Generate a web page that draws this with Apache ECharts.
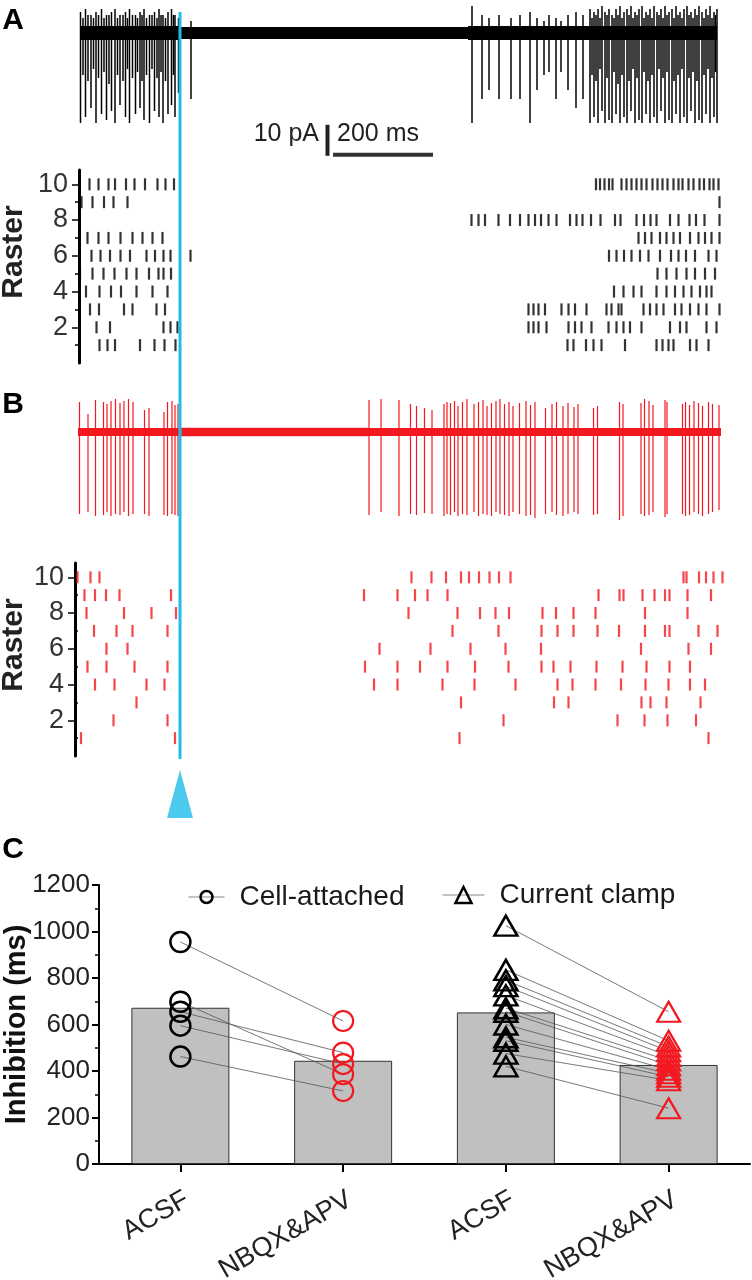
<!DOCTYPE html>
<html><head><meta charset="utf-8">
<script src="https://cdn.jsdelivr.net/npm/echarts@6/dist/echarts.min.js"></script>
<style>html,body{margin:0;padding:0;background:#fff}#c{width:752px;height:1280px}</style>
</head><body><div id="c"></div>
<script>
// ================= DATA =================
const stimTime = 204; // ms, stimulus marker (cyan line)

// Trace A (cell-attached current, pA): spike times (ms), downward depth, upward overshoot
const traceA_times = [5,15,26,36,47,57,67,74,84,95,103,115,124,132,143,153,162,170,180,187,194,201,226,
  10,20,31,41,52,62,79,90,99,109,119,128,137,148,158,166,175,191,
  788,808,822,842,866,884,904,918,932,942,956,966,980,996,1010,
  1024,1032,1040,1048,1054,1062,1068,1076,1084,1092,1098,1106,1114,1122,1128,1136,1144,1152,1158,1166,1174,1182,1188,1196,1204,1212,1218,1226,1234,1242,1248,1256,1264,1272,1278,
  1028,1036,1044,1058,1072,1080,1088,1102,1110,1118,1132,1140,1148,1162,1170,1178,1192,1200,1208,1222,1230,1238,1252,1260,1268,1275];
const traceA_depths = [30,28,25,30,27,29,26,30,24,28,30,27,25,29,30,26,28,30,27,24,28,20,22,
  14,16,12,15,13,17,14,16,12,15,13,16,14,12,15,13,16,14,
  30,22,19,22,22,22,30,19,14,13,22,13,19,25,22,
  30,28,30,26,30,29,30,27,30,28,30,26,30,29,30,27,30,28,30,26,30,29,30,27,30,28,30,26,30,29,30,27,30,28,30,
  14,16,12,15,13,17,14,16,12,15,13,16,14,12,15,13,16,14,12,15,13,16,14,12,15,13];
const traceA_ups = [7,8,6,7,8,6,7,8,6,7,8,6,7,8,6,7,8,6,7,8,6,5,4,
  5,6,5,6,5,6,5,6,5,6,5,6,5,6,5,6,5,6,
  9,6,5,6,5,6,7,5,4,6,5,4,6,7,6,
  8,7,8,9,7,8,6,8,9,7,8,9,7,8,9,7,8,9,7,8,9,7,8,9,7,8,9,7,8,9,7,8,9,7,8,
  5,6,5,6,5,6,5,6,5,6,5,6,5,6,5,6,5,6,5,6,5,6,5,6,5,6];
// baseline noise band: [start ms, end ms, half-thickness pA]
const traceA_band = [[4,205,2.3],[205,780,2.0],[780,1278,2.3]];

// Trace B (current clamp, mV-like units): spike times, upward peak, downward trough
const traceB_times = [3,20,35,51,58,66,75,84,92,101,110,133,142,172,179,188,194,200,
  582,606,642,665,677,693,708,732,738,745,753,760,769,778,792,801,810,818,827,836,844,853,862,870,883,896,905,914,935,948,957,970,980,992,1000,1031,1039,1083,1090,1126,1133,1142,1150,1174,1178,1209,1215,1223,1232,1241,1249,1261,1269,1282];
const traceB_ups = [30,18,32,30,28,31,33,29,31,33,30,22,24,20,30,31,27,28,
  32,33,32,28,26,24,22,28,30,29,31,26,30,33,28,30,32,26,29,31,33,28,30,26,29,31,27,30,24,28,30,26,29,25,28,24,26,30,28,29,33,31,27,32,30,28,30,27,31,29,26,30,28,27];
const traceB_downs = [82,80,84,83,80,84,82,83,80,84,82,82,84,83,84,82,83,84,
  83,80,84,82,83,81,82,84,82,83,80,84,82,83,80,84,82,83,84,80,82,83,84,80,82,84,83,86,82,80,83,84,82,80,82,83,82,88,84,82,84,83,80,85,82,82,84,83,80,82,84,82,80,78];
const traceB_band = [[0,205,4],[205,580,4.3],[580,1286,4]];

// Raster spike times (ms), index 0 = trial 1 ... index 9 = trial 10
const rasterA = [
  [43,59,74,124,153,173,195,979,991,1016,1031,1047,1094,1157,1169,1181,1191,1224,1237,1261],
  [37,64,171,185,199,901,911,921,937,981,994,1007,1027,1061,1077,1091,1104,1127,1184,1204,1217,1257,1277],
  [24,42,92,109,157,174,901,911,921,934,967,981,994,1017,1057,1067,1081,1087,1131,1144,1157,1171,1194,1207,1224,1241,1257,1283],
  [16,43,66,86,117,149,179,1072,1091,1111,1127,1157,1177,1194,1211,1227,1244,1257,1267],
  [4,29,51,73,97,117,142,161,171,186,1159,1177,1197,1217,1234,1254,1274],
  [27,45,64,85,104,137,154,171,185,225,1062,1077,1092,1107,1124,1141,1164,1186,1201,1216,1234,1261,1277],
  [19,41,61,85,109,129,149,169,1121,1134,1147,1164,1177,1191,1204,1224,1241,1254,1267,1283],
  [787,801,814,841,864,884,901,914,926,941,957,984,997,1009,1026,1045,1074,1085,1117,1132,1145,1157,1184,1201,1223,1236,1253,1283],
  [7,29,52,71,99,1283],
  [23,41,61,74,96,113,134,159,175,192,1036,1044,1053,1062,1069,1087,1097,1107,1117,1127,1137,1149,1159,1169,1179,1191,1201,1209,1221,1231,1243,1252,1263,1271,1281]
];
const rasterB = [
  [6,194,763,1261],
  [71,179,851,1079,1133,1179,1236],
  [117,766,952,981,1127,1145,1177,1245],
  [34,73,137,173,592,639,729,793,875,959,989,1035,1086,1135,1181,1224,1254],
  [19,57,113,179,574,639,684,739,794,861,927,951,985,1037,1089,1137,1183,1224],
  [57,99,603,705,785,855,926,1126,1221,1266],
  [32,77,109,179,749,841,927,959,991,1039,1082,1134,1174,1183,1241,1279],
  [17,92,147,196,661,759,804,835,862,929,956,991,1035,1134,1219],
  [13,34,56,83,186,572,639,674,699,739,1041,1083,1091,1129,1153,1174,1183,1219,1266],
  [-1,25,43,667,707,736,766,782,802,823,842,865,1211,1217,1242,1256,1271,1289]
];
const rasterTickLabels = [2,4,6,8,10];
const rasterMinorTicks = [1,3,5,7,9];

// Scale bar
const scaleBarPA = 10;
const scaleBarMs = 200;

// Panel C
const groups = ['ACSF','NBQX&APV','ACSF','NBQX&APV'];
const barMeans = [672, 444, 652, 426];
const cellAttachedACSF = [955, 698, 655, 595, 462];
const cellAttachedNBQX = [615, 386, 479, 430, 314];
const currentClampACSF = [1025, 835, 790, 765, 725, 670, 655, 600, 545, 530, 475, 420];
const currentClampNBQX = [655, 530, 505, 485, 465, 445, 425, 405, 390, 375, 360, 240];

// ================= CHART =================
const FONT = '"Liberation Sans", Arial, sans-serif';
const CYAN = '#1fbdea';
const RED = '#f2181f';
const chart = echarts.init(document.getElementById('c'), null, {renderer:'canvas'});

function spikeSeries(idx, times, ups, downs, color, width){
  return {type:'custom', xAxisIndex:idx, yAxisIndex:idx, silent:true, z:2,
    data: times.map((t,i)=>[t, ups[i], -downs[i]]),
    encode:{x:0, y:[1,2]},
    renderItem:(p, api)=>{
      const a = api.coord([api.value(0), api.value(1)]);
      const b = api.coord([api.value(0), api.value(2)]);
      return {type:'line', shape:{x1:a[0], y1:a[1], x2:b[0], y2:b[1]}, style:{stroke:color, lineWidth:width}};
    }};
}
function bandSeries(idx, band, color){
  return {type:'custom', xAxisIndex:idx, yAxisIndex:idx, silent:true, z:2,
    data: band, encode:{x:[0,1], y:2},
    renderItem:(p, api)=>{
      const a = api.coord([api.value(0), api.value(2)]);
      const b = api.coord([api.value(1), -api.value(2)]);
      return {type:'rect', shape:{x:a[0], y:a[1], width:b[0]-a[0], height:b[1]-a[1]}, style:{fill:color}};
    }};
}
function rasterSeries(idx, rows, color){
  const d = [];
  rows.forEach((row, i) => row.forEach(t => d.push([t, i+1])));
  return {type:'scatter', xAxisIndex:idx, yAxisIndex:idx, data:d, symbol:'rect', symbolSize:[2.2, 12],
    itemStyle:{color:color}, silent:true, clip:false};
}
function hiddenX(grid, min){ return {gridIndex:grid, type:'value', min:min, max:1292, show:false}; }
function rasterY(grid){
  return {gridIndex:grid, type:'value', min:0, max:10.8,
    axisLine:{show:true, onZero:false, lineStyle:{color:'#000', width:3}},
    axisTick:{show:true, length:7, customValues:rasterTickLabels, lineStyle:{color:'#000', width:1.5}},
    axisLabel:{show:true, customValues:rasterTickLabels, fontSize:27, color:'#333', fontFamily:FONT, margin:11},
    splitLine:{show:false}};
}
function rasterMinorY(grid){
  return {gridIndex:grid, type:'value', min:0, max:10.8, position:'left', offset:0,
    axisLine:{show:false}, axisLabel:{show:false}, splitLine:{show:false},
    axisTick:{show:true, length:4, customValues:rasterMinorTicks, lineStyle:{color:'#000', width:1.5}}};
}

const series = [];
// Trace A
series.push(bandSeries(0, traceA_band, '#000'));
series.push(spikeSeries(0, traceA_times, traceA_ups, traceA_depths, '#000', 1.5));
// Scale bar (in trace A coordinates)
series.push({type:'custom', xAxisIndex:0, yAxisIndex:0, silent:true, z:2, data:[[scaleBarMs, scaleBarPA]],
  renderItem:(p, api)=>{
    const v0 = api.coord([499, -40.6]);
    const v1 = api.coord([499, -40.6 + api.value(1)]);
    const h0 = api.coord([510, -40.6]);
    const h1 = api.coord([510 + api.value(0), -40.6]);
    return {type:'group', children:[
      {type:'line', shape:{x1:v0[0], y1:v0[1]+1, x2:v1[0], y2:v1[1]}, style:{stroke:'#222', lineWidth:4}},
      {type:'line', shape:{x1:h0[0], y1:h0[1], x2:h1[0], y2:h1[1]}, style:{stroke:'#333', lineWidth:4}}
    ]};
  }});
// Raster A
series.push(rasterSeries(1, rasterA, '#000'));
// Trace B
series.push(bandSeries(2, traceB_band, RED));
series.push(spikeSeries(2, traceB_times, traceB_ups, traceB_downs, RED, 1.2));
// Raster B
series.push(rasterSeries(3, rasterB, RED));
// Stimulus line and arrow
series.push({type:'line', xAxisIndex:4, yAxisIndex:6, data:[[stimTime,0],[stimTime,1]], symbol:'none',
  lineStyle:{color:CYAN, width:3}, z:10, silent:true});
series.push({type:'scatter', xAxisIndex:5, yAxisIndex:7, data:[[stimTime,0]], symbol:'triangle', symbolSize:[26,48],
  itemStyle:{color:CYAN}, z:10, silent:true});

// Panel C
series.push({type:'bar', xAxisIndex:6, yAxisIndex:8, data:barMeans, barWidth:98,
  itemStyle:{color:'#c0c0c0', borderColor:'#333', borderWidth:1}, z:1, silent:true});
function pairSeries(name, a, b, x0, symbol, size){
  return a.map((v,i)=>({type:'line', name:name, xAxisIndex:6, yAxisIndex:8, z:3, silent:true,
    symbol:symbol, symbolSize:size,
    itemStyle:{color:'rgba(0,0,0,0)', borderColor:'#000', borderWidth:2.5},
    lineStyle:{color:'#555', width:0.8},
    data:[{value:[x0, v]}, {value:[x0+1, b[i]], itemStyle:{color:'rgba(0,0,0,0)', borderColor:RED, borderWidth:2.2}}]}));
}
series.push(...pairSeries('Cell-attached', cellAttachedACSF, cellAttachedNBQX, 0, 'circle', 20));
series.push(...pairSeries('Current clamp', currentClampACSF, currentClampNBQX, 2, 'triangle', [23,20]));

const G = (o) => Object.assign({outerBoundsMode:'none', containLabel:false}, o);
const option = {
  animation:false,
  backgroundColor:'#fff',
  textStyle:{fontFamily:FONT},
  grid:[
    G({left:78, right:28, top:3, height:156}),      // 0 trace A
    G({left:79, right:28, top:170, height:193}),    // 1 raster A
    G({left:78, right:28, top:392, height:130}),    // 2 trace B
    G({left:75, right:28, top:563, height:193}),    // 3 raster B
    G({left:78, right:28, top:12, height:747}),     // 4 stim line
    G({left:78, right:28, top:770, height:48}),     // 5 arrow
    G({left:99, right:2, top:885, height:279})      // 6 panel C
  ],
  xAxis:[
    hiddenX(0, 0), hiddenX(1, 2), hiddenX(2, 0), hiddenX(3, -6), hiddenX(4, 0), hiddenX(5, 0),
    {gridIndex:6, type:'category', data:groups,
      axisLine:{show:true, lineStyle:{color:'#000', width:2}},
      axisTick:{show:true, alignWithLabel:true, length:8, lineStyle:{color:'#000', width:2}},
      axisLabel:{rotate:30, fontSize:27, color:'#222', fontFamily:FONT, margin:22, interval:0,
        align:'right', verticalAlign:'top'}}
  ],
  yAxis:[
    {gridIndex:0, type:'value', min:-42, max:10, show:false},
    rasterY(1),
    {gridIndex:2, type:'value', min:-90, max:40, show:false},
    rasterY(3),
    {gridIndex:4, type:'value', min:0, max:1, show:false},
    {gridIndex:5, type:'value', min:-1, max:1, show:false},
    {gridIndex:4, type:'value', min:0, max:1, show:false},
    {gridIndex:5, type:'value', min:-1, max:1, show:false},
    {gridIndex:6, type:'value', min:0, max:1200, interval:200,
      name:'Inhibition (ms)', nameLocation:'middle', nameGap:68, nameMoveOverlap:false,
      nameTextStyle:{fontSize:29, fontWeight:'bold', color:'#111', fontFamily:FONT},
      axisLine:{show:true, lineStyle:{color:'#000', width:2}},
      axisTick:{show:true, length:7, lineStyle:{color:'#000', width:2}},
      minorTick:{show:true, splitNumber:2, length:4, lineStyle:{color:'#000', width:1.5}},
      axisLabel:{fontSize:26, color:'#222', fontFamily:FONT, margin:9, formatter:(v)=>String(v)},
      splitLine:{show:false}},
    rasterMinorY(1),
    rasterMinorY(3)
  ],
  legend:[
    {data:['Cell-attached'], left:188, top:883, padding:0, itemWidth:36, itemHeight:15,
      itemStyle:{color:'rgba(0,0,0,0)', borderColor:'#000', borderWidth:2.5},
      lineStyle:{color:'#888', width:1},
      textStyle:{fontSize:28, color:'#1a1a1a', fontFamily:FONT, padding:[0,0,0,10]}},
    {data:['Current clamp'], left:442, top:881, padding:0, itemWidth:42, itemHeight:20,
      itemStyle:{color:'rgba(0,0,0,0)', borderColor:'#000', borderWidth:2.5},
      lineStyle:{color:'#888', width:1},
      textStyle:{fontSize:28, color:'#1a1a1a', fontFamily:FONT, padding:[0,0,0,10]}}
  ],
  graphic:[
    {type:'text', x:13, y:21, style:{text:'A', fontSize:30, fontWeight:'bold', fontFamily:FONT, fill:'#000', align:'center', verticalAlign:'middle'}},
    {type:'text', x:13, y:405, style:{text:'B', fontSize:30, fontWeight:'bold', fontFamily:FONT, fill:'#000', align:'center', verticalAlign:'middle'}},
    {type:'text', x:13, y:850, style:{text:'C', fontSize:30, fontWeight:'bold', fontFamily:FONT, fill:'#000', align:'center', verticalAlign:'middle'}},
    {type:'text', x:14, y:252, rotation:Math.PI/2, style:{text:'Raster', fontSize:30, fontWeight:'bold', fontFamily:FONT, fill:'#222', align:'center', verticalAlign:'middle'}},
    {type:'text', x:14, y:645, rotation:Math.PI/2, style:{text:'Raster', fontSize:30, fontWeight:'bold', fontFamily:FONT, fill:'#222', align:'center', verticalAlign:'middle'}},
    {type:'text', x:319, y:134, style:{text:scaleBarPA + ' pA', fontSize:25, fontFamily:FONT, fill:'#222', align:'right', verticalAlign:'middle'}},
    {type:'text', x:337, y:134, style:{text:scaleBarMs + ' ms', fontSize:25, fontFamily:FONT, fill:'#222', align:'left', verticalAlign:'middle'}}
  ],
  series: series
};
chart.setOption(option);
</script>
</body></html>
